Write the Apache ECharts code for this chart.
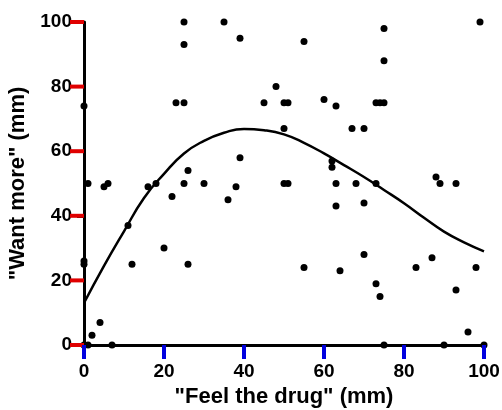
<!DOCTYPE html>
<html><head><meta charset="utf-8">
<script src="https://cdn.jsdelivr.net/npm/echarts@6/dist/echarts.min.js"></script>
<style>html,body{margin:0;padding:0;background:#fff}#c{width:502px;height:410px}</style>
</head><body><div id="c"></div>
<script>
// Observed points: "Feel the drug" (x) vs "Want more" (y)
const feelDrug = [0,1,7,2,4,0,0,12,26,20,11,22,1,5,6,16,18,25,30,26,0,23,25,25,25,35,39,55,48,45,50,51,60,63,50,39,62,62,38,36,50,51,63,63,55,64,75,99,75,73,74,75,67,70,88,68,73,70,89,93,70,83,87,98,73,74,93,96,75,90,100];
const wantMore = [0,0,0,3,7,25,26,25,25,30,37,46,50,49,50,49,50,50,50,54,74,75,75,93,100,100,95,94,80,75,75,75,76,74,67,58,57,55,49,45,50,50,50,43,24,23,98,100,88,75,75,75,67,67,52,50,50,44,50,50,28,24,27,24,19,15,17,4,0,0,0];
// Fitted curve
const curveX = [0,5,10,15,20,25,30,35,40,45,50,55,60,65,70,75,80,85,90,95,100];
const curveY = [13,24.5,35.2,45.5,53,59.3,63.2,65.7,66.9,66.5,65.2,62.6,59.3,55.7,52,48,43.9,39.4,35.1,31.8,29];
const tickVals = [0,20,40,60,80,100];

const chart = echarts.init(document.getElementById('c'));
const font = '"Liberation Sans", Arial, sans-serif';
function makeAxis(name, gap, labelMargin) {
  return {
    type: 'value', min: 0, max: 100, interval: 20,
    name: name, nameLocation: 'middle', nameGap: gap,
    nameTextStyle: {color: '#000', fontSize: 22, fontWeight: 'bold', fontFamily: font},
    axisLine: {show: true, onZero: false, lineStyle: {color: '#000', width: 3}},
    axisTick: {show: true, length: 7, lineStyle: {color: '#000', width: 3}},
    splitLine: {show: false},
    axisLabel: {show: true, margin: labelMargin, color: '#000', fontSize: 19, fontWeight: 'bold', fontFamily: font,
      formatter: v => tickVals.includes(v) ? String(v) : ''}
  };
}
chart.setOption({
  animation: false,
  grid: {left: 84, right: 18, top: 22, bottom: 65, containLabel: false, outerBoundsMode: 'none'},
  xAxis: makeAxis('"Feel the drug" (mm)', 41, 17),
  yAxis: makeAxis('"Want more" (mm)', 53, 12),
  series: [
    {type: 'line', data: curveX.map((x,i)=>[x, curveY[i]]), smooth: 0.5, showSymbol: false,
     lineStyle: {color: '#000', width: 2.5}, z: 3},
    {type: 'scatter', data: feelDrug.map((x,i)=>[x, wantMore[i]]), symbolSize: 7,
     itemStyle: {color: '#000', opacity: 1}, clip: false, z: 4},
    // tick marks drawn as small bars at the tick values, positioned by the axes' scales
    {type: 'scatter', silent: true, clip: false, z: 5,
     data: tickVals.map(v => [0, v]),
     symbol: 'rect', symbolSize: [14, 4], symbolOffset: [-7, 0],
     itemStyle: {color: '#e00000', opacity: 1}},
    {type: 'scatter', silent: true, clip: false, z: 5,
     data: tickVals.map(v => [v, 0]),
     symbol: 'rect', symbolSize: [4, 14], symbolOffset: [0, 7],
     itemStyle: {color: '#0000e0', opacity: 1}}
  ]
});
</script></body></html>
